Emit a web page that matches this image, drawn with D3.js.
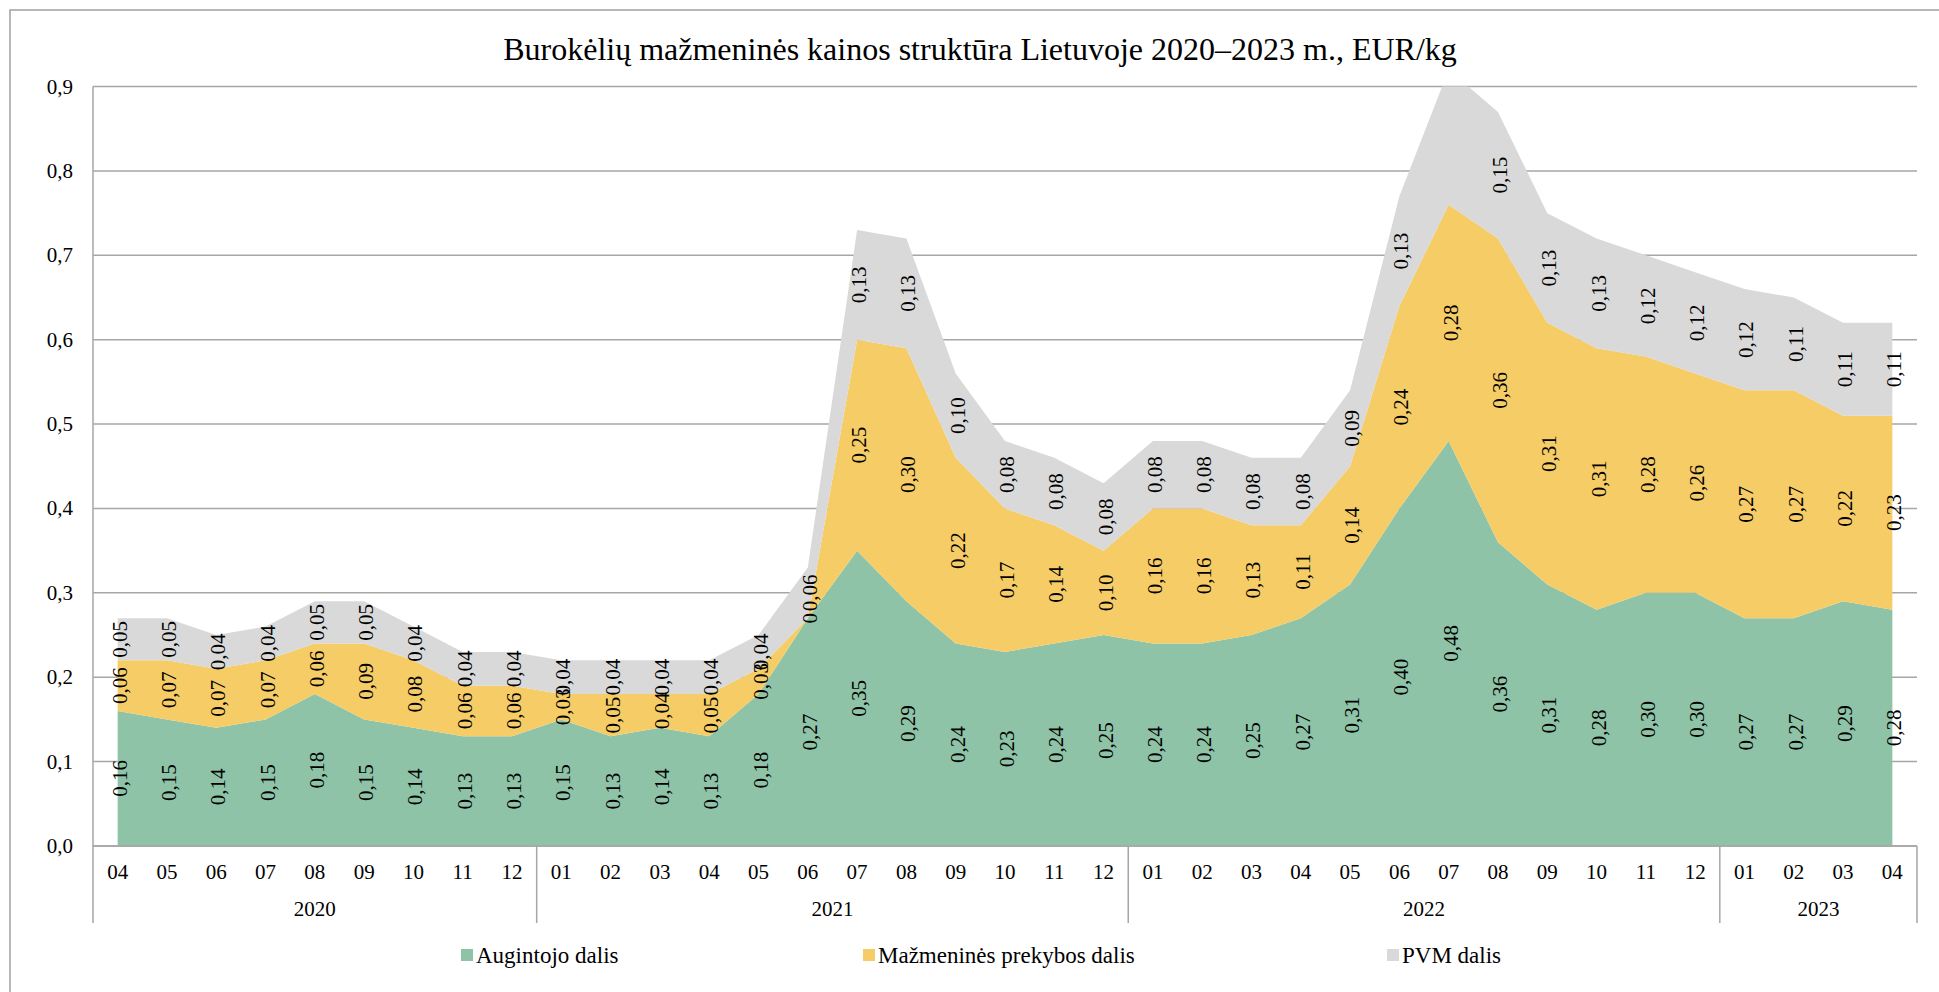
<!DOCTYPE html>
<html lang="lt">
<head>
<meta charset="utf-8">
<script src="https://cdn.jsdelivr.net/npm/d3@7"></script>
<style>
  html, body { margin: 0; padding: 0; background: #fff; }
  svg, svg text { font-family: "Liberation Serif", "Times New Roman", serif; }
  svg { display: block; }
</style>
</head>
<body>
<svg id="chart" width="1939" height="992"></svg>
<script>
// Months shown on the category axis (April 2020 – April 2023)
const years = ["2020", "2021", "2022", "2023"];
const monthsPerYear = [
  ["04", "05", "06", "07", "08", "09", "10", "11", "12"],
  ["01", "02", "03", "04", "05", "06", "07", "08", "09", "10", "11", "12"],
  ["01", "02", "03", "04", "05", "06", "07", "08", "09", "10", "11", "12"],
  ["01", "02", "03", "04"]
];

// Price components, EUR/kg
const augintojo = [
  0.16, 0.15, 0.14, 0.15, 0.18, 0.15, 0.14, 0.13, 0.13,
  0.15, 0.13, 0.14, 0.13, 0.18, 0.27, 0.35, 0.29, 0.24, 0.23, 0.24, 0.25,
  0.24, 0.24, 0.25, 0.27, 0.31, 0.40, 0.48, 0.36, 0.31, 0.28, 0.30, 0.30,
  0.27, 0.27, 0.29, 0.28
];
const mazmenines = [
  0.06, 0.07, 0.07, 0.07, 0.06, 0.09, 0.08, 0.06, 0.06,
  0.03, 0.05, 0.04, 0.05, 0.03, 0.00, 0.25, 0.30, 0.22, 0.17, 0.14, 0.10,
  0.16, 0.16, 0.13, 0.11, 0.14, 0.24, 0.28, 0.36, 0.31, 0.31, 0.28, 0.26,
  0.27, 0.27, 0.22, 0.23
];
const pvm = [
  0.05, 0.05, 0.04, 0.04, 0.05, 0.05, 0.04, 0.04, 0.04,
  0.04, 0.04, 0.04, 0.04, 0.04, 0.06, 0.13, 0.13, 0.10, 0.08, 0.08, 0.08,
  0.08, 0.08, 0.08, 0.08, 0.09, 0.13, 0.16, 0.15, 0.13, 0.13, 0.12, 0.12,
  0.12, 0.11, 0.11, 0.11
];

const seriesNames = ["Augintojo dalis", "Mažmeninės prekybos dalis", "PVM dalis"];
const seriesColors = ["#8ec3a7", "#f5cc66", "#d9d9d9"];
const yTicks = [0, 0.1, 0.2, 0.3, 0.4, 0.5, 0.6, 0.7, 0.8, 0.9];

// Flatten months into one category list
const cats = [];
monthsPerYear.forEach((ms, yi) => ms.forEach(m => cats.push({ year: years[yi], month: m })));
const rows = cats.map((c, i) => ({ i, a: augintojo[i], m: mazmenines[i], p: pvm[i] }));

const FONT = "Liberation Serif, Times New Roman, serif";
const svg = d3.select("#chart").attr("font-family", FONT);
const W = 1939, H = 992;
const plot = { left: 93, right: 1917, top: 86.6, bottom: 846 };
const gridColor = "#a6a6a6";
const fmt = v => d3.format(".2f")(v).replace(".", ",");
const fmtTick = v => d3.format(".1f")(v).replace(".", ",");

// Outer chart frame
svg.append("rect")
  .attr("x", 10).attr("y", 10).attr("width", W + 20).attr("height", H + 20)
  .attr("fill", "#fff").attr("stroke", "#a0a0a0").attr("stroke-width", 1.5);

// Title
svg.append("text")
  .attr("x", 980).attr("y", 60)
  .attr("text-anchor", "middle")
  .attr("font-family", FONT)
  .attr("font-size", 32)
  .attr("fill", "#000")
  .text("Burokėlių mažmeninės kainos struktūra Lietuvoje 2020–2023 m., EUR/kg");

const x = d3.scaleBand().domain(d3.range(cats.length)).range([plot.left, plot.right]).padding(0);
const xc = i => x(i) + x.bandwidth() / 2;
const y = d3.scaleLinear().domain([0, 0.9]).range([plot.bottom, plot.top]);

// Horizontal gridlines
svg.append("g").selectAll("line").data(yTicks).join("line")
  .attr("x1", plot.left).attr("x2", plot.right)
  .attr("y1", d => y(d)).attr("y2", d => y(d))
  .attr("stroke", gridColor).attr("stroke-width", 1.5);

// Value axis labels
svg.append("g").selectAll("text").data(yTicks).join("text")
  .attr("x", 73).attr("y", d => y(d))
  .attr("text-anchor", "end").attr("dominant-baseline", "central")
  .attr("font-family", FONT)
  .attr("font-size", 21)
  .text(d => fmtTick(d));

// Stacked areas
const stack = d3.stack().keys(["a", "m", "p"]);
const layers = stack(rows);

svg.append("clipPath").attr("id", "plotClip")
  .append("rect")
  .attr("x", plot.left).attr("y", plot.top)
  .attr("width", plot.right - plot.left).attr("height", plot.bottom - plot.top);

const area = d3.area()
  .x((d, i) => xc(i))
  .y0(d => y(d[0]))
  .y1(d => y(d[1]));

svg.append("g").attr("clip-path", "url(#plotClip)")
  .selectAll("path").data(layers).join("path")
  .attr("d", area)
  .attr("fill", (d, k) => seriesColors[k]);

// Category axis line and separators
svg.append("line")
  .attr("x1", plot.left).attr("x2", plot.right)
  .attr("y1", plot.bottom).attr("y2", plot.bottom)
  .attr("stroke", gridColor).attr("stroke-width", 1.5);

svg.append("line")
  .attr("x1", plot.left).attr("x2", plot.left)
  .attr("y1", plot.top).attr("y2", 923)
  .attr("stroke", gridColor).attr("stroke-width", 1.5);

let start = 0;
const yearSpans = monthsPerYear.map((ms, yi) => {
  const s = { year: years[yi], from: start, to: start + ms.length - 1 };
  start += ms.length;
  return s;
});
svg.append("g").selectAll("line").data(yearSpans).join("line")
  .attr("x1", d => x(d.to) + x.bandwidth()).attr("x2", d => x(d.to) + x.bandwidth())
  .attr("y1", plot.bottom).attr("y2", 923)
  .attr("stroke", gridColor).attr("stroke-width", 1.5);

// Month labels
svg.append("g").selectAll("text").data(cats).join("text")
  .attr("x", (d, i) => xc(i)).attr("y", 872)
  .attr("text-anchor", "middle").attr("dominant-baseline", "central")
  .attr("font-family", FONT)
  .attr("font-size", 21)
  .text(d => d.month);

// Year labels
svg.append("g").selectAll("text").data(yearSpans).join("text")
  .attr("x", d => (x(d.from) + x(d.to) + x.bandwidth()) / 2).attr("y", 909)
  .attr("text-anchor", "middle").attr("dominant-baseline", "central")
  .attr("font-family", FONT)
  .attr("font-size", 21)
  .text(d => d.year);

// Data labels, rotated, centred in each band
const labelData = [];
layers.forEach((layer, k) => {
  layer.forEach((d, i) => {
    if (d[1] > y.domain()[1]) return;
    labelData.push({ i, v: d[1] - d[0], mid: (d[0] + d[1]) / 2, k });
  });
});
svg.append("g").selectAll("text").data(labelData).join("text")
  .attr("transform", d => `translate(${xc(d.i) + 2},${y(d.mid)}) rotate(-90)`)
  .attr("text-anchor", "middle").attr("dominant-baseline", "central")
  .attr("font-family", FONT)
  .attr("font-size", 21)
  .text(d => d.v === 0 ? "0" : fmt(d.v));

// Legend
const legendPos = [461, 863, 1387];
const lg = svg.append("g").selectAll("g").data(seriesNames).join("g")
  .attr("transform", (d, k) => `translate(${legendPos[k]},949)`);
lg.append("rect").attr("width", 12).attr("height", 12)
  .attr("fill", (d, k) => seriesColors[k]);
lg.append("text").attr("x", 15).attr("y", 6)
  .attr("dominant-baseline", "central")
  .attr("font-family", FONT)
  .attr("font-size", 23)
  .text(d => d);
</script>
</body>
</html>
